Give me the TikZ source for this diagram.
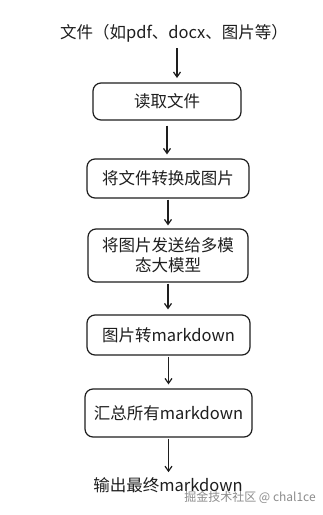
\documentclass[tikz,border=0pt]{standalone}
\usepackage{fontspec}
\setmainfont{Noto Sans CJK SC}
\usetikzlibrary{arrows.meta}
\definecolor{ink}{HTML}{1E1E1E}
\tikzset{
  txt/.style={inner sep=0pt, text=ink, font=\fontsize{16.5}{20}\selectfont},
  stepbox/.style={txt, draw=ink, line width=1.2pt, rounded corners=8pt, align=center},
  arr/.style={draw=ink, line width=1.2pt, -{Straight Barb[length=5pt,width=7pt]}},
  wm/.style={inner sep=0pt, text=black!45, font=\fontsize{12}{14}\selectfont}
}
\begin{document}
\begin{tikzpicture}[x=1pt,y=-1pt]
\useasboundingbox[fill=white] (0,0) rectangle (323,515);
\node[txt] (src) at (174,33) {文件（如pdf、docx、图片等）};
\node[stepbox, minimum width=148pt, minimum height=37pt] (b1) at (167,101.5) {读取文件};
\node[stepbox, minimum width=162pt, minimum height=39pt] (b2) at (168,178.5) {将文件转换成图片};
\node[stepbox, minimum width=160pt, minimum height=53pt] (b3) at (168,255.5) {将图片发送给多模\\态大模型};
\node[stepbox, minimum width=163pt, minimum height=40pt] (b4) at (168.5,335) {图片转markdown};
\node[stepbox, minimum width=167pt, minimum height=48pt] (b5) at (168.5,413) {汇总所有markdown};
\node[txt] (out) at (168,485) {输出最终markdown};
\node[wm] (mark) at (250,497.5) {掘金技术社区 @ chal1ce};
\coordinate (a1s) at (177,48);
\coordinate (a1e) at (177,78);
\draw[arr] (a1s) -- (a1e);
\draw[arr, shorten <=5pt, shorten >=4pt] (b1.south) -- (b1.south |- b2.north);
\draw[arr, shorten <=1pt, shorten >=3pt] (b2.south) -- (b2.south |- b3.north);
\draw[arr, shorten <=1pt, shorten >=5pt] (b3.south) -- (b3.south |- b4.north);
\draw[arr, shorten <=1pt, shorten >=4pt] (b4.south) -- (b4.south |- b5.north);
\draw[arr, shorten <=1pt, shorten >=5pt] (b5.south) -- (b5.south |- out.north);
\end{tikzpicture}
\end{document}
